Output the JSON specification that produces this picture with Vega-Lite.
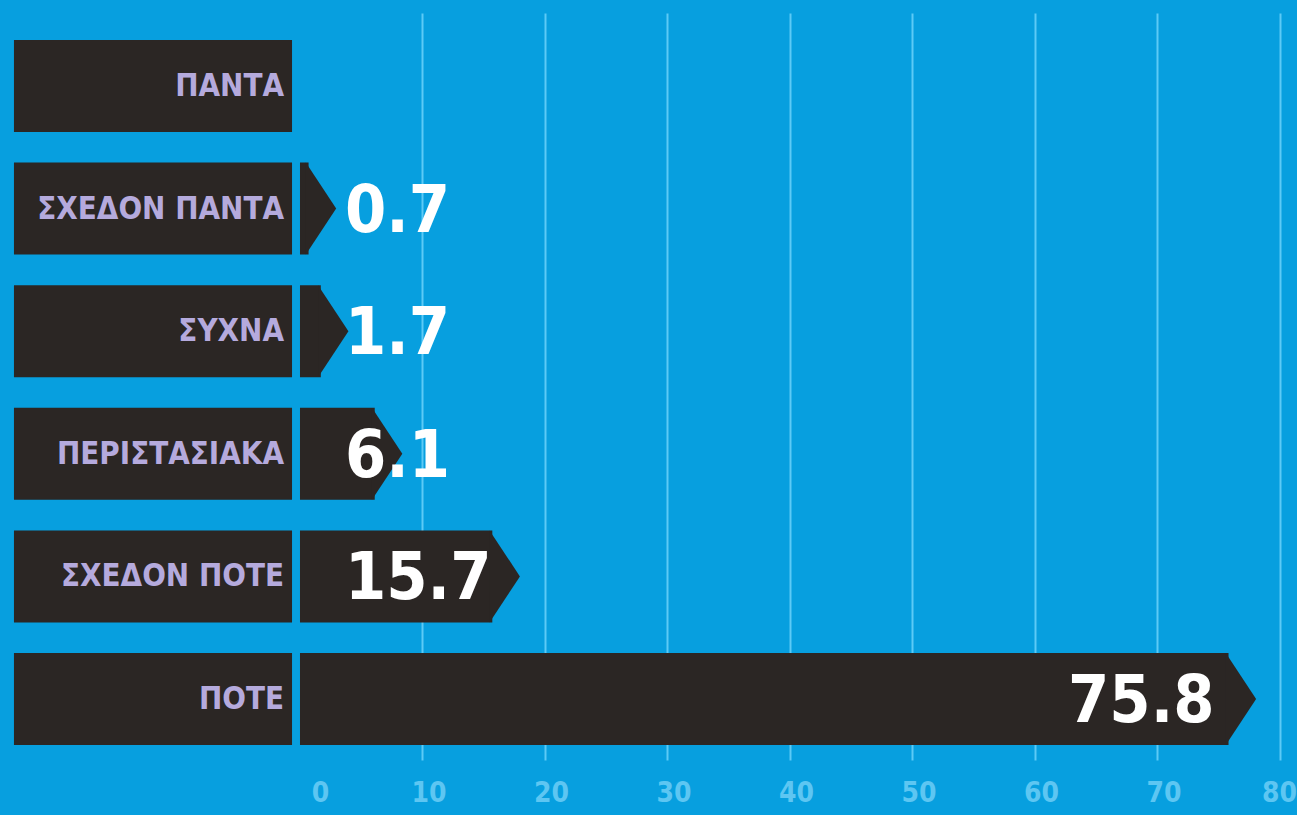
{
  "$schema": "https://vega.github.io/schema/vega-lite/v6.json",
  "width": 1297,
  "height": 747,
  "autosize": {"type": "none"},
  "padding": {"top": 13, "bottom": 55, "left": 0, "right": 0},
  "background": "#079fdf",
  "config": {"view": {"stroke": null}},
  "data": {
    "values": [
      {"category": "ΠΑΝΤΑ", "value": null},
      {"category": "ΣΧΕΔΟΝ ΠΑΝΤΑ", "value": 0.7},
      {"category": "ΣΥΧΝΑ", "value": 1.7},
      {"category": "ΠΕΡΙΣΤΑΣΙΑΚΑ", "value": 6.1},
      {"category": "ΣΧΕΔΟΝ ΠΟΤΕ", "value": 15.7},
      {"category": "ΠΟΤΕ", "value": 75.8}
    ]
  },
  "encoding": {
    "y": {
      "field": "category",
      "type": "nominal",
      "sort": null,
      "axis": null,
      "scale": {"paddingInner": 0.25, "paddingOuter": 0.171, "align": 0.643}
    }
  },
  "layer": [
    {
      "mark": {"type": "bar", "color": "#2b2624"},
      "encoding": {
        "x": {
          "datum": -23.35,
          "type": "quantitative",
          "scale": {"domain": [-24.49, 81.39], "nice": false, "zero": false},
          "axis": {
            "values": [0, 10, 20, 30, 40, 50, 60, 70, 80],
            "title": null,
            "orient": "bottom",
            "domain": false,
            "ticks": false,
            "tickSize": 0,
            "grid": true,
            "gridColor": "#5ccaf6",
            "gridWidth": 2,
            "gridOpacity": {"condition": {"test": "datum.value === 0", "value": 0}, "value": 1},
            "labelFont": "DejaVu Sans Condensed",
            "labelFontWeight": "bold",
            "labelFontSize": 28,
            "labelColor": "#5dc6f2",
            "labelPadding": 19,
            "labelBaseline": "top",
            "labelOffset": {"condition": [{"test": "datum.value === 0", "value": 20}, {"test": "datum.value === 80", "value": -1}], "value": 6}
          }
        },
        "x2": {"datum": -0.65}
      }
    },
    {
      "mark": {
        "type": "text",
        "align": "right",
        "baseline": "middle",
        "dx": -8,
        "dy": 1,
        "font": "DejaVu Sans Condensed",
        "fontWeight": "bold",
        "fontSize": 31,
        "color": "#b5aadd"
      },
      "encoding": {
        "x": {"datum": -0.65, "type": "quantitative"},
        "text": {"field": "category"}
      }
    },
    {
      "transform": [{"filter": "isValid(datum.value)"}],
      "mark": {"type": "bar", "color": "#2b2624"},
      "encoding": {
        "x": {"field": "value", "type": "quantitative"},
        "x2": {"datum": 0}
      }
    },
    {
      "transform": [{"filter": "isValid(datum.value)"}],
      "mark": {
        "type": "point",
        "shape": "M-0.06,-1L0.6,0L-0.06,1Z",
        "filled": true,
        "opacity": 1,
        "strokeWidth": 0,
        "color": "#2b2624",
        "size": 8464
      },
      "encoding": {
        "x": {"field": "value", "type": "quantitative"}
      }
    },
    {
      "transform": [{"filter": "isValid(datum.value) && datum.value < 50"}],
      "mark": {
        "type": "text",
        "align": "left",
        "baseline": "middle",
        "dx": 45,
        "dy": 3,
        "font": "DejaVu Sans Condensed",
        "fontWeight": "bold",
        "fontSize": 66,
        "color": "#ffffff"
      },
      "encoding": {
        "x": {"datum": 0, "type": "quantitative"},
        "text": {"field": "value", "type": "quantitative", "format": ".1f"}
      }
    },
    {
      "transform": [{"filter": "isValid(datum.value) && datum.value >= 50"}],
      "mark": {
        "type": "text",
        "align": "right",
        "baseline": "middle",
        "dx": -14,
        "dy": 3,
        "font": "DejaVu Sans Condensed",
        "fontWeight": "bold",
        "fontSize": 66,
        "color": "#ffffff"
      },
      "encoding": {
        "x": {"field": "value", "type": "quantitative"},
        "text": {"field": "value", "type": "quantitative", "format": ".1f"}
      }
    }
  ]
}
